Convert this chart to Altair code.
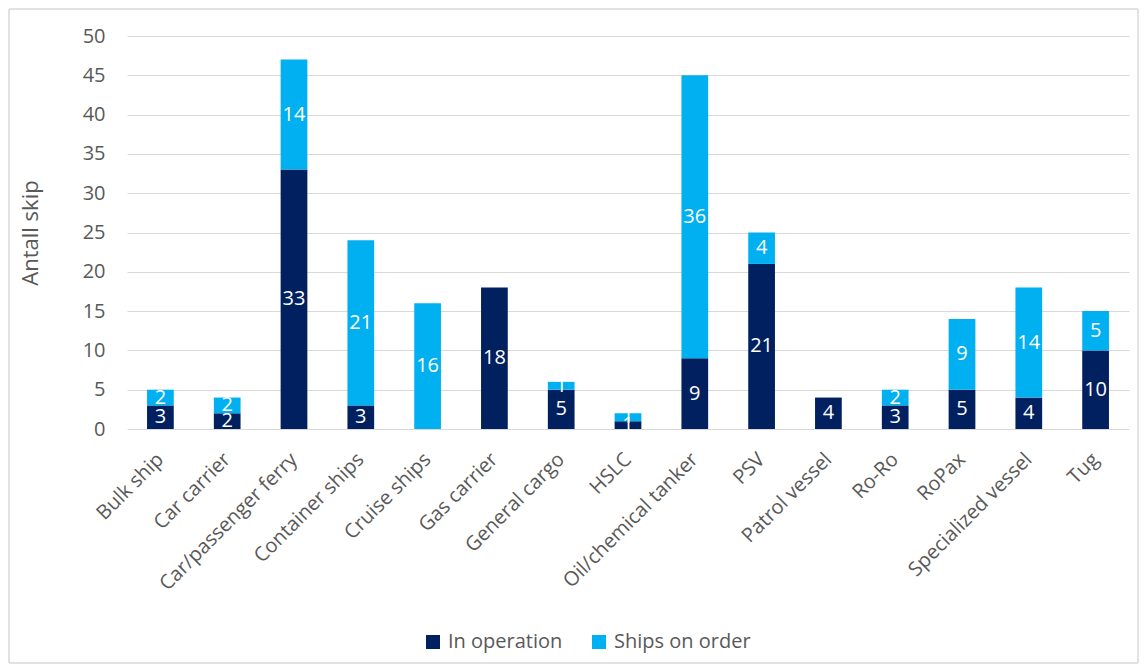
import altair as alt
import pandas as pd

categories = ["Bulk ship", "Car carrier", "Car/passenger ferry", "Container ships",
              "Cruise ships", "Gas carrier", "General cargo", "HSLC",
              "Oil/chemical tanker", "PSV", "Patrol vessel", "Ro-Ro", "RoPax",
              "Specialized vessel", "Tug"]
in_operation = [3, 2, 33, 3, 0, 18, 5, 1, 9, 21, 4, 3, 5, 4, 10]
on_order = [2, 2, 14, 21, 16, 0, 1, 1, 36, 4, 0, 2, 9, 14, 5]
series = ["In operation", "Ships on order"]
colors = ["#002060", "#00B0F0"]
y_ticks = [0, 5, 10, 15, 20, 25, 30, 35, 40, 45, 50]

rows = []
for c, a, b in zip(categories, in_operation, on_order):
    rows.append({"cat": c, "series": series[0], "value": a, "ord": 0})
    rows.append({"cat": c, "series": series[1], "value": b, "ord": 1})
df = pd.DataFrame(rows)

FONT = "Open Sans"
GRAY = "#595959"

x_axis = alt.Axis(labelAngle=-45, labelFontSize=20, labelColor=GRAY,
                  labelFont=FONT, ticks=False, domain=False,
                  labelPadding=20, labelOffset=-7, labelLimit=300)
y_axis = alt.Axis(values=y_ticks, labelFontSize=20, labelOverlap=False,
                  labelColor=GRAY, labelFont=FONT, ticks=False,
                  domain=False, labelPadding=22, gridColor="#d9d9d9",
                  titleFontSize=22, titleFont=FONT, titleColor=GRAY,
                  titleFontWeight="normal", titlePadding=40)
x_scale = alt.Scale(paddingInner=0.6, paddingOuter=0.3)
y_scale = alt.Scale(domain=[0, 50], nice=False)

base = alt.Chart(df)

bars = base.mark_bar().encode(
    x=alt.X("cat:N", sort=categories, title=None, scale=x_scale, axis=x_axis),
    y=alt.Y("value:Q", stack="zero", title="Antall skip", scale=y_scale, axis=y_axis),
    color=alt.Color("series:N", scale=alt.Scale(domain=series, range=colors),
                    legend=alt.Legend(title=None, orient="none", direction="horizontal",
                                      legendX=296, legendY=596, symbolType="square",
                                      symbolSize=196, symbolStrokeWidth=0,
                                      labelFontSize=20, labelFont=FONT,
                                      labelColor=GRAY, columnPadding=26,
                                      labelOffset=5)),
    order=alt.Order("ord:Q"),
)

labels = base.transform_filter("datum.value > 0").transform_stack(
    stack="value", groupby=["cat"], as_=["y0", "y1"],
    sort=[alt.SortField("ord", order="ascending")]
).transform_calculate(mid="(datum.y0 + datum.y1) / 2").mark_text(
    color="white", fontSize=20, font=FONT, baseline="middle"
).encode(
    x=alt.X("cat:N", sort=categories, title=None, scale=x_scale, axis=x_axis),
    y=alt.Y("mid:Q", title="Antall skip", scale=y_scale, axis=y_axis),
    text="value:Q",
)

one = pd.DataFrame({"k": [0]})
BC = "#d9d9d9"
L, R, T, B = -118, 1011, -27, 627
edges = [
    alt.Chart(one).mark_rule(color=BC, strokeWidth=1.5).encode(
        x=alt.value(L), x2=alt.value(R), y=alt.value(T)),
    alt.Chart(one).mark_rule(color=BC, strokeWidth=1.5).encode(
        x=alt.value(L), x2=alt.value(R), y=alt.value(B)),
    alt.Chart(one).mark_rule(color=BC, strokeWidth=1.5).encode(
        x=alt.value(L), y=alt.value(T), y2=alt.value(B)),
    alt.Chart(one).mark_rule(color=BC, strokeWidth=1.5).encode(
        x=alt.value(R), y=alt.value(T), y2=alt.value(B)),
]

chart = alt.layer(*edges, bars, labels).properties(
    width=1002, height=393,
    background="white",
    autosize=alt.AutoSizeParams(type="none"),
    padding={"left": 119, "top": 28, "right": 10, "bottom": 235},
).configure_view(strokeWidth=0, stroke="transparent")

chart.save("out.html", embed_options={"renderer": "svg", "actions": False})
